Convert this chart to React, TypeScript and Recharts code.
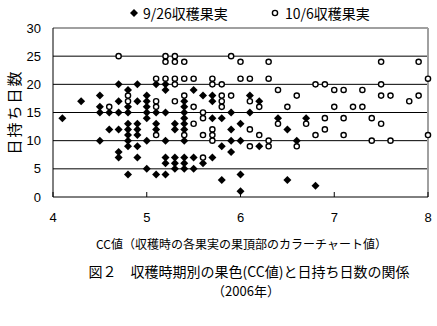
import React from "react"
import { ScatterChart, Scatter, XAxis, YAxis, CartesianGrid, ReferenceLine } from "recharts"

// [CC値, 日持ち日数]
const sept26: [number, number][] = [
  [4.1, 14], [4.3, 17],
  [4.5, 18], [4.5, 16], [4.5, 15], [4.5, 10],
  [4.6, 15], [4.6, 12],
  [4.7, 20], [4.7, 17], [4.7, 15], [4.7, 12], [4.7, 8], [4.7, 7],
  [4.8, 19], [4.8, 16], [4.8, 15], [4.8, 13], [4.8, 12], [4.8, 11], [4.8, 10], [4.8, 9], [4.8, 4],
  [4.9, 20], [4.9, 17], [4.9, 13], [4.9, 12], [4.9, 11], [4.9, 9], [4.9, 7],
  [5.0, 18], [5.0, 17], [5.0, 16], [5.0, 15], [5.0, 14], [5.0, 10], [5.0, 5],
  [5.1, 20], [5.1, 15], [5.1, 13], [5.1, 12], [5.1, 4],
  [5.2, 20], [5.2, 19], [5.2, 15], [5.2, 10], [5.2, 7], [5.2, 6], [5.2, 4],
  [5.3, 13], [5.3, 12], [5.3, 7], [5.3, 6], [5.3, 5],
  [5.4, 17], [5.4, 16], [5.4, 15], [5.4, 14], [5.4, 13], [5.4, 12], [5.4, 10], [5.4, 7], [5.4, 6], [5.4, 5],
  [5.5, 19], [5.5, 7], [5.5, 5],
  [5.6, 18], [5.6, 6],
  [5.7, 18], [5.7, 17], [5.7, 14], [5.7, 7],
  [5.8, 14], [5.8, 9], [5.8, 3],
  [5.9, 15], [5.9, 12], [5.9, 10], [5.9, 8],
  [6.0, 13], [6.0, 10], [6.0, 4], [6.0, 1],
  [6.1, 18], [6.1, 15],
  [6.2, 17], [6.2, 9],
  [6.4, 14], [6.5, 12], [6.5, 3], [6.6, 10], [6.7, 14], [6.8, 2],
]

const oct6: [number, number][] = [
  [4.6, 16], [4.7, 25], [4.8, 18], [4.8, 17],
  [5.1, 21], [5.1, 17], [5.1, 16], [5.1, 11],
  [5.2, 25], [5.2, 24], [5.2, 21],
  [5.3, 25], [5.3, 24], [5.3, 21], [5.3, 20], [5.3, 17],
  [5.4, 24], [5.4, 21], [5.4, 18], [5.4, 11],
  [5.5, 21], [5.5, 16], [5.5, 13],
  [5.6, 15], [5.6, 14], [5.6, 11], [5.6, 7],
  [5.7, 21], [5.7, 20], [5.7, 12], [5.7, 11], [5.7, 10],
  [5.8, 20], [5.8, 18], [5.8, 17], [5.8, 16],
  [5.9, 25], [5.9, 18],
  [6.0, 24], [6.0, 21],
  [6.1, 21], [6.1, 17], [6.1, 12], [6.1, 9],
  [6.2, 16], [6.2, 11],
  [6.3, 24], [6.3, 21], [6.3, 10], [6.3, 9],
  [6.4, 19], [6.4, 13], [6.5, 16], [6.6, 18], [6.6, 9], [6.7, 13],
  [6.8, 20], [6.8, 11], [6.9, 20], [6.9, 14], [6.9, 12],
  [7.0, 19], [7.0, 16], [7.1, 19], [7.1, 14], [7.1, 11],
  [7.2, 16], [7.3, 19], [7.3, 16], [7.4, 14], [7.4, 10],
  [7.5, 24], [7.5, 20], [7.5, 18], [7.5, 13],
  [7.6, 18], [7.6, 10], [7.8, 17], [7.9, 24], [7.9, 18],
  [8.0, 21], [8.0, 11],
]

const xTicks = [4, 5, 6, 7, 8]
const yTicks = [0, 5, 10, 15, 20, 25, 30]
const gridValues = [5, 10, 15, 20, 25]

const toRows = (pts: [number, number][]) => pts.map(([cc, days]) => ({ cc, days }))

const JP = '"Noto Sans CJK JP", "Noto Sans", sans-serif'
const NUM = '"Liberation Sans", Arial, sans-serif'

const Diamond = (props: any) => {
  const { cx, cy } = props
  if (cx == null || cy == null) return null
  return <polygon points={`${cx},${cy - 4} ${cx + 4},${cy} ${cx},${cy + 4} ${cx - 4},${cy}`} fill="#000" />
}

const Ring = (props: any) => {
  const { cx, cy } = props
  if (cx == null || cy == null) return null
  return <circle cx={cx} cy={cy} r={2.6} fill="#fff" stroke="#000" strokeWidth={1.4} />
}

export default function App() {
  return (
    <div style={{ position: "relative", width: 437, height: 326, background: "#fff" }}>
      <style>{`body{margin:0}`}</style>

      {/* legend */}
      <svg width={437} height={26} style={{ position: "absolute", left: 0, top: 0 }}>
        <polygon points="134,9 138,13 134,17 130,13" fill="#000" />
        <circle cx={275} cy={13} r={2.6} fill="#fff" stroke="#000" strokeWidth={1.4} />
      </svg>
      <div style={{ position: "absolute", left: 143, top: 3, fontFamily: JP, fontSize: 14, lineHeight: "20px" }}>
        9/26収穫果実
      </div>
      <div style={{ position: "absolute", left: 285, top: 3, fontFamily: JP, fontSize: 14, lineHeight: "20px" }}>
        10/6収穫果実
      </div>

      <ScatterChart width={437} height={326} margin={{ top: 28, right: 9, left: 13, bottom: 99 }}>
        <CartesianGrid horizontal vertical={false} horizontalValues={gridValues} stroke="#000" strokeDasharray="" />
        <XAxis
          type="number"
          dataKey="cc"
          domain={[4, 8]}
          ticks={xTicks}
          height={30}
          tickSize={-5}
          tickMargin={21}
          stroke="#000"
          tick={{ fill: "#000", fontSize: 13, fontFamily: NUM }}
        />
        <YAxis
          type="number"
          dataKey="days"
          domain={[0, 30]}
          ticks={yTicks}
          width={40}
          tickLine={false}
          tickMargin={6}
          stroke="#000"
          tick={{ fill: "#000", fontSize: 13, fontFamily: NUM }}
        />
        <ReferenceLine y={30} stroke="#a0a0a0" strokeWidth={2} />
        <ReferenceLine x={8} stroke="#a0a0a0" strokeWidth={2} />
        <Scatter name="9/26収穫果実" data={toRows(sept26)} shape={Diamond} isAnimationActive={false} />
        <Scatter name="10/6収穫果実" data={toRows(oct6)} shape={Ring} isAnimationActive={false} />
      </ScatterChart>

      {/* y label */}
      <div
        style={{
          position: "absolute",
          left: 13,
          top: 112,
          transform: "translate(-50%, -50%) rotate(-90deg)",
          fontFamily: JP,
          fontSize: 15,
          letterSpacing: 2,
          whiteSpace: "nowrap",
        }}
      >
        日持ち日数
      </div>

      {/* x label and caption */}
      <div style={{ position: "absolute", left: 0, width: 483, top: 236, textAlign: "center", fontFamily: JP, fontSize: 12, lineHeight: "16px", whiteSpace: "nowrap" }}>
        CC値（収穫時の各果実の果頂部のカラーチャート値）
      </div>
      <div style={{ position: "absolute", left: 0, width: 498, top: 261, textAlign: "center", fontFamily: JP, fontSize: 14, lineHeight: "20px", whiteSpace: "nowrap" }}>
        図２　収穫時期別の果色(CC値)と日持ち日数の関係
      </div>
      <div style={{ position: "absolute", left: 0, width: 492, top: 282, textAlign: "center", fontFamily: JP, fontSize: 13, lineHeight: "18px", whiteSpace: "nowrap" }}>
        （2006年）
      </div>
    </div>
  )
}
